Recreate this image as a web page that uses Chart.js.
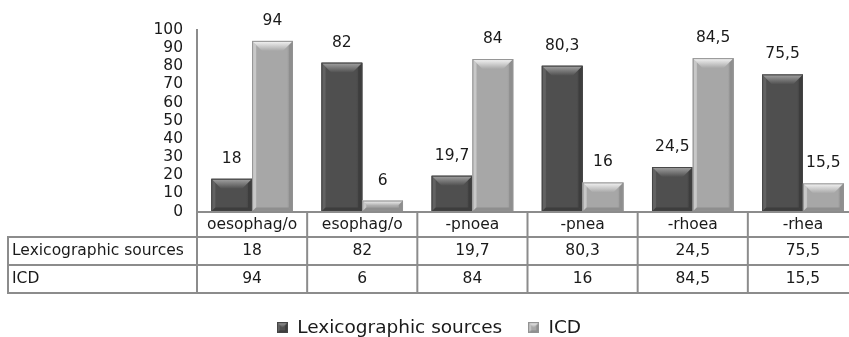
<!DOCTYPE html>
<html>
<head>
<meta charset="utf-8">
<script src="https://cdn.jsdelivr.net/npm/chart.js@4.4.1/dist/chart.umd.min.js"></script>
<style>
  html, body { margin: 0; padding: 0; background: #ffffff; overflow: hidden; }
  #wrap { position: relative; width: 862px; height: 347px; }
</style>
</head>
<body>
<div id="wrap"><canvas id="chart" width="862" height="347"></canvas></div>
<script>
// Share of each spelling / suffix by source (%)
const categories = ['oesophag/o', 'esophag/o', '-pnoea', '-pnea', '-rhoea', '-rhea'];
const seriesNames = ['Lexicographic sources', 'ICD'];
const lexicographicValues = [18, 82, 19.7, 80.3, 24.5, 75.5];
const icdValues = [94, 6, 84, 16, 84.5, 15.5];
const yTickValues = [0, 10, 20, 30, 40, 50, 60, 70, 80, 90, 100];

const FONT = 'DejaVu Sans, Verdana, sans-serif';
const TEXT = '#1a1a1a';
const RULE = '#8c8c8c';

// Bevelled fill palettes for the two series
const palettes = [
  { body: '#4f4f4f', hi: '#a4a4a4', edge: '#626262', shadow: '#3d3d3d', line: '#454545' },
  { body: '#a7a7a7', hi: '#f6f6f6', edge: '#c8c8c8', shadow: '#8e8e8e', line: '#939393' }
];

const fmt = v => String(v).replace('.', ',');

function bevelRect(ctx, left, top, right, bottom, pal) {
  const w = right - left, h = bottom - top;
  if (w <= 0 || h <= 0) return;
  const b = Math.min(10, h / 2, w / 2);
  const s = Math.min(4, w / 4, h / 2);
  ctx.save();
  // body with soft horizontal shading
  let g = ctx.createLinearGradient(left, 0, right, 0);
  g.addColorStop(0, pal.edge);
  g.addColorStop(0.12, pal.body);
  g.addColorStop(0.85, pal.body);
  g.addColorStop(1, pal.shadow);
  ctx.fillStyle = g;
  ctx.fillRect(left, top, w, h);
  // left facet
  ctx.beginPath();
  ctx.moveTo(left, top); ctx.lineTo(left + s, top + s);
  ctx.lineTo(left + s, bottom - s); ctx.lineTo(left, bottom); ctx.closePath();
  ctx.fillStyle = pal.edge; ctx.fill();
  // right facet
  ctx.beginPath();
  ctx.moveTo(right, top); ctx.lineTo(right - s, top + s);
  ctx.lineTo(right - s, bottom - s); ctx.lineTo(right, bottom); ctx.closePath();
  ctx.fillStyle = pal.shadow; ctx.fill();
  // bottom facet
  ctx.beginPath();
  ctx.moveTo(left, bottom); ctx.lineTo(left + s, bottom - s);
  ctx.lineTo(right - s, bottom - s); ctx.lineTo(right, bottom); ctx.closePath();
  ctx.fillStyle = pal.shadow; ctx.fill();
  // top facet (highlight)
  ctx.beginPath();
  ctx.moveTo(left, top); ctx.lineTo(right, top);
  ctx.lineTo(right - b, top + b); ctx.lineTo(left + b, top + b); ctx.closePath();
  g = ctx.createLinearGradient(0, top, 0, top + b);
  g.addColorStop(0, pal.hi);
  g.addColorStop(1, pal.body);
  ctx.fillStyle = g; ctx.fill();
  // outline
  ctx.strokeStyle = pal.line;
  ctx.lineWidth = 1;
  ctx.strokeRect(left + 0.5, top + 0.5, w - 1, h - 1);
  ctx.restore();
}

function legendMarker(pal) {
  const c = document.createElement('canvas');
  c.width = 11; c.height = 11;
  bevelRect(c.getContext('2d'), 0, 0, 11, 11, pal);
  return c;
}
const markers = palettes.map(legendMarker);

// Redraws each bar element with the bevel look, then writes its value above it
const bevelBars = {
  id: 'bevelBars',
  afterDatasetsDraw(chart) {
    const ctx = chart.ctx;
    chart.data.datasets.forEach((ds, di) => {
      const meta = chart.getDatasetMeta(di);
      meta.data.forEach((el, i) => {
        const p = el.getProps(['x', 'y', 'base', 'width'], true);
        bevelRect(ctx, p.x - p.width / 2, p.y, p.x + p.width / 2, p.base, palettes[di]);
        ctx.save();
        ctx.font = '15.5px ' + FONT;
        ctx.fillStyle = TEXT;
        ctx.textAlign = 'center';
        ctx.textBaseline = 'middle';
        ctx.fillText(fmt(ds.data[i]), p.x, p.y - 20);
        ctx.restore();
      });
    });
  }
};

// Data table under the plot, aligned with the category scale
const dataTable = {
  id: 'dataTable',
  afterDraw(chart) {
    const { ctx, chartArea: a, scales: { x } } = chart;
    const half = (x.getPixelForValue(1) - x.getPixelForValue(0)) / 2;
    const edges = categories.map((_, i) => x.getPixelForValue(i) - half);
    edges.push(x.getPixelForValue(categories.length - 1) + half);
    const headLeft = 8;
    const y0 = a.bottom + 0.5;
    const y1 = y0 + 25, y2 = y1 + 28, y3 = y2 + 28;
    ctx.save();
    ctx.strokeStyle = RULE;
    ctx.lineWidth = 2;
    ctx.beginPath();
    ctx.moveTo(edges[0], y0); ctx.lineTo(edges[edges.length - 1], y0);
    [y1, y2, y3].forEach(yy => { ctx.moveTo(headLeft, yy); ctx.lineTo(edges[edges.length - 1], yy); });
    ctx.moveTo(headLeft, y1 - 1); ctx.lineTo(headLeft, y3 + 1);
    edges.forEach(ex => { ctx.moveTo(ex, y0); ctx.lineTo(ex, y3 + 1); });
    ctx.stroke();

    ctx.font = '15.5px ' + FONT;
    ctx.fillStyle = TEXT;
    ctx.textBaseline = 'middle';
    ctx.textAlign = 'center';
    categories.forEach((c, i) => ctx.fillText(c, x.getPixelForValue(i), (y0 + y1) / 2));
    const rows = [[y1, y2, lexicographicValues], [y2, y3, icdValues]];
    rows.forEach(([ta, tb, vals], r) => {
      const ym = (ta + tb) / 2;
      ctx.textAlign = 'left';
      ctx.fillText(seriesNames[r], headLeft + 4, ym);
      ctx.textAlign = 'center';
      vals.forEach((v, i) => ctx.fillText(fmt(v), x.getPixelForValue(i), ym));
    });
    ctx.restore();
  }
};

new Chart(document.getElementById('chart'), {
  type: 'bar',
  data: {
    labels: categories,
    datasets: [
      { label: seriesNames[0], data: lexicographicValues, backgroundColor: palettes[0].body },
      { label: seriesNames[1], data: icdValues, backgroundColor: palettes[1].body }
    ]
  },
  options: {
    responsive: false,
    animation: false,
    devicePixelRatio: 1,
    layout: { padding: { top: 30, right: 4, bottom: 0, left: 0 } },
    datasets: { bar: { categoryPercentage: 0.74, barPercentage: 1.0 } },
    scales: {
      x: {
        grid: { display: false, drawTicks: false },
        border: { display: false },
        ticks: { display: false },
        afterFit(scale) { scale.height = 81; }
      },
      y: {
        min: 0, max: 100,
        afterBuildTicks(scale) { scale.ticks = yTickValues.map(v => ({ value: v })); },
        grid: { display: false, drawTicks: false },
        border: { display: true, color: RULE, width: 2 },
        ticks: { autoSkip: false, padding: 14, color: TEXT, font: { family: FONT, size: 15.5 } },
        afterFit(scale) { scale.width = 197; }
      }
    },
    plugins: {
      tooltip: { enabled: false },
      legend: {
        position: 'bottom',
        labels: {
          color: TEXT,
          font: { family: FONT, size: 18.5 },
          usePointStyle: true,
          boxWidth: 11,
          padding: 26,
          generateLabels(chart) {
            const items = Chart.defaults.plugins.legend.labels.generateLabels(chart);
            items.forEach((it, i) => { it.pointStyle = markers[i]; });
            return items;
          }
        }
      }
    }
  },
  plugins: [bevelBars, dataTable]
});
</script>
</body>
</html>
